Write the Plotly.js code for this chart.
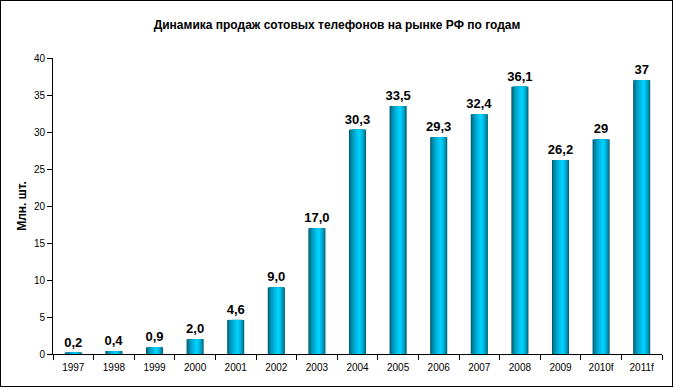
<!DOCTYPE html>
<html><head><meta charset="utf-8">
<script src="https://cdn.plot.ly/plotly-3.0.1.min.js"></script>
<style>
body{margin:0;padding:0;background:#fff;}
#wrap{position:relative;width:674px;height:389px;}
#chart{width:674px;height:389px;}
#frame{position:absolute;left:0;top:0;width:671px;height:385px;border:1px solid #000;pointer-events:none;}
</style></head>
<body><div id="wrap"><div id="chart"></div><div id="frame"></div></div>
<script>
const years = ["1997","1998","1999","2000","2001","2002","2003","2004","2005","2006","2007","2008","2009","2010f","2011f"];
const sales = [0.2,0.4,0.9,2.0,4.6,9.0,17.0,30.3,33.5,29.3,32.4,36.1,26.2,29,37];
const labels = ["0,2","0,4","0,9","2,0","4,6","9,0","17,0","30,3","33,5","29,3","32,4","36,1","26,2","29","37"];

const barW = 0.42;
const dark = [0,88,112], bright = [0,210,255];
const N = 12;
const c = 0.05;          // brightest stripe position (offset from category centre)
const leftD = c + barW/2, rightD = barW/2 - c;
const traces = [];
// base bar with labels
traces.push({
  type:'bar', x:years, y:sales, width:barW,
  marker:{color:'rgb('+dark.join(',')+')', line:{width:0}},
  text:labels, textposition:'outside', cliponaxis:false, constraintext:'none',
  textfont:{family:'Arial, Liberation Sans', size:13, color:'#000', weight:'bold'},
  hoverinfo:'skip'
});
for(let k=1;k<N;k++){
  const f = 1 - k/N;
  const l = c - leftD*f, r = c + rightD*f;
  const t = Math.pow(k/(N-1),0.6);
  const col = dark.map((d,i)=>Math.round(d+(bright[i]-d)*t));
  traces.push({
    type:'bar', x:years, y:sales, width:r-l, offset:l,
    marker:{color:'rgb('+col.join(',')+')', line:{width:0}},
    hoverinfo:'skip'
  });
}
const layout = {
  width:674, height:389,
  margin:{l:53, r:12, t:57.5, b:34.5},
  paper_bgcolor:'#fff', plot_bgcolor:'#fff',
  barmode:'overlay', showlegend:false,
  font:{family:'Arial, Liberation Sans', color:'#000'},
  title:{text:'<b>Динамика продаж сотовых телефонов на рынке РФ по годам</b>',
         font:{family:'Arial, Liberation Sans', size:12, color:'#000'},
         x:0.5, xanchor:'center', y:0.935, yanchor:'middle'},
  xaxis:{type:'category', showline:true, linecolor:'#000', linewidth:1,
         ticks:'outside', ticklen:5, tickcolor:'#000', tickson:'boundaries',
         ticklabelstandoff:4,
         tickfont:{size:10, color:'#000'}, showgrid:false, zeroline:false},
  yaxis:{range:[0,40], dtick:5, showline:true, linecolor:'#000', linewidth:1,
         ticks:'outside', ticklen:5, tickcolor:'#000',
         tickfont:{size:10, color:'#000'}, showgrid:false, zeroline:false,
         title:{text:'<b>Млн. шт.</b>', font:{size:12, color:'#000'}, standoff:4}}
};
Plotly.newPlot('chart', traces, layout, {displayModeBar:false, staticPlot:true});
</script></body></html>
